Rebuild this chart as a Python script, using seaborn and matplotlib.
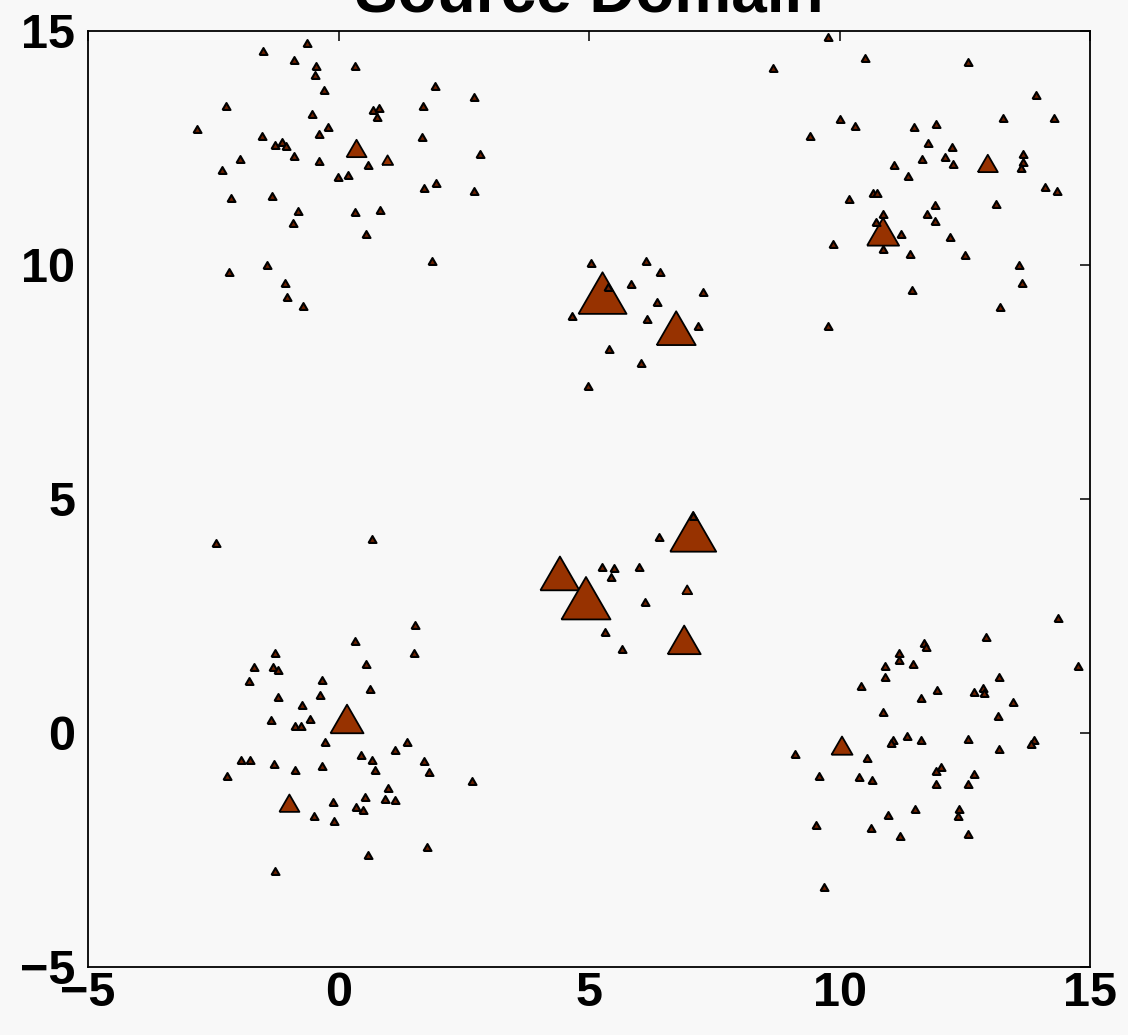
import numpy as np
import pandas as pd
import matplotlib
matplotlib.use("Agg")
import matplotlib.pyplot as plt
import seaborn as sns

# ---- data: small (unweighted) points ----
small_x = [
    # top-left cluster
    -0.62, -1.50, -0.88, -0.44, 0.32, -0.46, -0.28, 1.93, 2.71, -2.25, 1.69, -0.52,
    0.68, 0.80, 0.77, -2.83, -0.20, -0.38, -1.53, 1.67, -1.27, -1.12, -1.05, -0.89,
    -1.96, -0.38, 2.82, -2.32, 0.59, -0.01, 0.19, 1.71, 1.95, 2.71, -2.15, -1.32,
    -0.81, 0.33, 0.83, -0.91, 0.55, 1.87, -1.43, -2.19, -1.07, -1.03, -0.71,
    # top-right cluster
    8.68, 9.78, 10.50, 12.56, 13.93, 13.27, 14.28, 10.00, 10.30, 9.42, 11.48, 11.93,
    11.77, 12.25, 11.65, 12.11, 12.27, 11.09, 11.37, 13.67, 13.67, 13.62, 14.11, 14.35,
    10.67, 10.75, 10.19, 13.13, 11.90, 11.75, 11.91, 10.87, 10.72, 11.22, 10.87, 12.20,
    11.40, 12.51, 9.88, 13.59, 13.65, 11.45, 13.21, 9.78,
    # centre-top cluster
    5.03, 6.13, 6.42, 5.37, 5.83, 7.27, 6.36, 4.67, 6.16, 7.17, 5.39, 6.03, 4.99,
    # centre-bottom cluster
    7.08, 6.40, 5.25, 5.50, 6.00, 5.44, 6.11, 5.32, 5.65,
    # bottom-left cluster
    -2.44, 0.67, 1.53, 0.33, 1.50, -1.27, -1.68, -1.31, -1.21, 0.54, -1.79, -0.32,
    0.63, -0.36, -1.21, -0.73, -1.35, -0.56, -0.87, -0.75, -0.26, 1.37, 1.12, 0.45,
    0.67, 1.71, -1.95, -1.77, -1.29, -0.32, 0.73, 1.80, -0.87, -2.23, 2.66, 0.98,
    0.52, 0.93, 1.13, -0.10, 0.35, 0.48, -0.48, -0.08, 1.77, 0.58, -1.27,
    # bottom-right cluster
    14.37, 12.92, 14.76, 11.69, 11.73, 11.18, 11.19, 11.47, 10.91, 10.91, 13.18, 10.42,
    11.94, 12.68, 12.86, 12.89, 11.63, 13.47, 10.86, 13.16, 11.07, 11.02, 11.35, 11.63,
    12.57, 13.88, 13.82, 13.19, 9.11, 10.55, 12.02, 11.93, 12.68, 9.59, 10.38, 10.65,
    11.93, 12.56, 11.51, 12.39, 12.37, 10.97, 9.54, 10.63, 11.20, 12.56, 9.69,
]
small_y = [
    14.75, 14.58, 14.38, 14.26, 14.25, 14.07, 13.73, 13.82, 13.60, 13.40, 13.40, 13.22,
    13.31, 13.35, 13.17, 12.91, 12.94, 12.80, 12.76, 12.73, 12.56, 12.63, 12.54, 12.32,
    12.27, 12.22, 12.37, 12.04, 12.14, 11.87, 11.93, 11.65, 11.76, 11.59, 11.43, 11.47,
    11.15, 11.14, 11.18, 10.89, 10.66, 10.09, 9.99, 9.84, 9.61, 9.31, 9.13,
    14.22, 14.88, 14.43, 14.33, 13.63, 13.15, 13.15, 13.11, 12.97, 12.76, 12.94, 13.02,
    12.61, 12.52, 12.27, 12.31, 12.15, 12.14, 11.90, 12.38, 12.21, 12.07, 11.67, 11.59,
    11.54, 11.53, 11.40, 11.30, 11.28, 11.10, 10.94, 11.08, 10.92, 10.66, 10.35, 10.59,
    10.24, 10.21, 10.44, 10.00, 9.61, 9.47, 9.10, 8.70,
    10.04, 10.08, 9.86, 9.54, 9.59, 9.42, 9.20, 8.91, 8.85, 8.69, 8.20, 7.91, 7.42,
    4.64, 4.19, 3.55, 3.52, 3.55, 3.33, 2.79, 2.16, 1.79,
    4.05, 4.14, 2.30, 1.96, 1.72, 1.70, 1.42, 1.40, 1.35, 1.47, 1.11, 1.14,
    0.95, 0.82, 0.76, 0.60, 0.28, 0.29, 0.15, 0.15, -0.19, -0.20, -0.36, -0.48,
    -0.58, -0.59, -0.58, -0.58, -0.67, -0.70, -0.79, -0.84, -0.79, -0.92, -1.03, -1.17,
    -1.36, -1.42, -1.43, -1.47, -1.59, -1.64, -1.77, -1.88, -2.44, -2.61, -2.95,
    2.45, 2.06, 1.44, 1.93, 1.83, 1.70, 1.55, 1.47, 1.43, 1.20, 1.19, 1.01,
    0.91, 0.88, 0.97, 0.86, 0.75, 0.67, 0.44, 0.37, -0.14, -0.21, -0.06, -0.16,
    -0.13, -0.14, -0.24, -0.34, -0.44, -0.54, -0.72, -0.82, -0.88, -0.92, -0.93, -1.00,
    -1.08, -1.08, -1.63, -1.62, -1.77, -1.76, -1.96, -2.02, -2.21, -2.16, -3.28,
]

# ---- data: weighted points (marker width reflects weight) ----
big_x = [0.36, 0.98, 10.87, 12.96, 5.27, 6.74, 7.08, 4.42, 4.94, 6.90, 6.96, 0.17, -0.98, 10.05]
big_y = [12.49, 12.24, 10.71, 12.17, 9.40, 8.65, 4.30, 3.41, 2.88, 1.99, 3.06, 0.30, -1.50, -0.27]
big_w = [20, 11, 32, 20, 48, 39, 46, 39, 49, 33, 10, 33, 20, 21]

tick_vals = [-5, 0, 5, 10, 15]

# ---- style ----
sns.set_style("white")
plt.rcParams["font.family"] = ["Liberation Sans", "DejaVu Sans"]
plt.rcParams["text.color"] = "black"
BG = "#f8f8f8"

fig = plt.figure(figsize=(11.28, 10.35), dpi=100, facecolor=BG)
ax = fig.add_axes([88 / 1128, 1 - 967 / 1035, (1090 - 88) / 1128, (967 - 31) / 1035])
ax.set_facecolor(BG)

# equilateral triangle marker (width == marker size)
tri = [(-1.0, -0.866), (1.0, -0.866), (0.0, 0.866), (-1.0, -0.866)]

px2pt = 72.0 / 100.0
big_df = pd.DataFrame({"x": big_x, "y": big_y, "w": big_w})
small_df = pd.DataFrame({"x": small_x, "y": small_y})

sns.scatterplot(data=big_df, x="x", y="y", ax=ax, marker=tri,
                s=[(w * px2pt) ** 2 for w in big_w],
                color="#973200", edgecolor="black", linewidth=1.3, zorder=3)
sns.scatterplot(data=small_df, x="x", y="y", ax=ax, marker=tri,
                s=(8 * px2pt) ** 2, color="#6e2200", edgecolor="black",
                linewidth=1.5, zorder=4)

ax.set_xlim(-5, 15)
ax.set_ylim(-5, 15)
ax.set_xticks(tick_vals)
ax.set_yticks(tick_vals)
ax.set_xlabel("")
ax.set_ylabel("")
ax.tick_params(axis="both", direction="in", length=7, width=1.1,
               top=True, right=True, labelsize=35, colors="black",
               labelcolor="black")
ax.tick_params(axis="x", pad=3)
ax.tick_params(axis="y", pad=9)
for lab in ax.get_xticklabels() + ax.get_yticklabels():
    lab.set_fontweight("bold")
for sp in ax.spines.values():
    sp.set_visible(True)
    sp.set_linewidth(1.3)
    sp.set_color("black")

fig.text(589 / 1128, 1 - 12 / 1035, "Source Domain", ha="center", va="baseline",
         fontsize=46, fontweight="bold", color="black")

fig.savefig("out.png", dpi=100, facecolor=BG)
